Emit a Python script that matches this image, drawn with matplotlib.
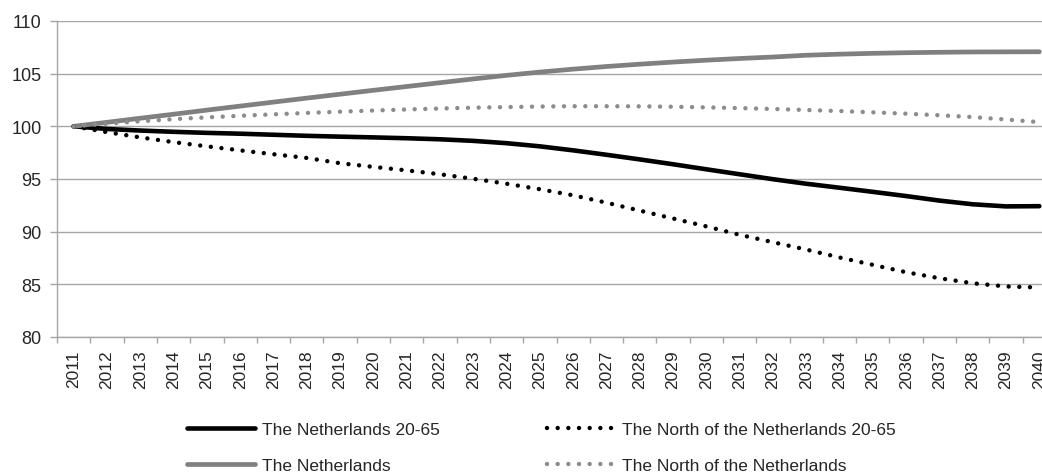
import matplotlib

matplotlib.use("Agg")
import matplotlib.pyplot as plt
import numpy as np

plt.rcParams["font.family"] = ["Liberation Sans", "DejaVu Sans"]

years = list(range(2011, 2041))

nl_20_65 = [100.0, 99.75, 99.6, 99.48, 99.38, 99.3, 99.2, 99.1, 99.02, 98.95,
            98.87, 98.77, 98.62, 98.4, 98.1, 97.72, 97.3, 96.86, 96.4, 95.92,
            95.45, 94.98, 94.55, 94.17, 93.78, 93.38, 92.95, 92.6, 92.4, 92.42]
north_20_65 = [100.0, 99.45, 98.95, 98.5, 98.1, 97.72, 97.35, 97.0, 96.5, 96.15,
               95.82, 95.45, 95.02, 94.55, 94.03, 93.45, 92.75, 92.0, 91.25, 90.5,
               89.7, 89.0, 88.3, 87.55, 86.85, 86.15, 85.58, 85.1, 84.8, 84.7]
nl_total = [100.0, 100.38, 100.77, 101.15, 101.54, 101.92, 102.3, 102.68, 103.05, 103.42,
            103.78, 104.14, 104.5, 104.84, 105.15, 105.43, 105.68, 105.9, 106.1, 106.28,
            106.44, 106.58, 106.75, 106.85, 106.93, 106.99, 107.03, 107.06, 107.07, 107.08]
north_total = [100.0, 100.25, 100.48, 100.68, 100.85, 101.0, 101.14, 101.27, 101.39, 101.5,
               101.6, 101.69, 101.77, 101.83, 101.88, 101.91, 101.91, 101.9, 101.86, 101.8,
               101.73, 101.65, 101.55, 101.45, 101.33, 101.2, 101.05, 100.88, 100.65, 100.4]

labels = ["The Netherlands 20-65", "The Netherlands",
          "The North of the Netherlands 20-65", "The North of the Netherlands"]

_BLACK = "#000000"
_GREY = "#808080"
_GREY_DOT = "#8c8c8c"
_GRID = "#a6a6a6"
_TEXT = "#262626"

fig = plt.figure(figsize=(10.42, 4.77), dpi=100)
ax = fig.add_axes([57 / 1042, 139 / 477, 999 / 1042, 316 / 477])

x = np.arange(len(years))
dotted = (0, (0.001, 2.4))
l1, = ax.plot(x, nl_20_65, color=_BLACK, lw=3.3, solid_capstyle="round")
l2, = ax.plot(x, nl_total, color=_GREY, lw=3.4, solid_capstyle="round")
l3, = ax.plot(x, north_20_65, color=_BLACK, lw=3.2, linestyle=dotted,
              dash_capstyle="round")
l4, = ax.plot(x, north_total, color=_GREY_DOT, lw=3.2, linestyle=dotted,
              dash_capstyle="round")

ax.set_xlim(-0.5, len(years) - 0.5)
ax.set_ylim(80, 110)
ax.set_yticks(range(80, 111, 5))
ax.set_xticks(x)
ax.set_xticklabels([str(y) for y in years], rotation=90)
ax.set_xticks(np.arange(-0.5, len(years), 1.0), minor=True)
ax.tick_params(axis="x", which="major", length=0, pad=9, labelsize=12.5, labelcolor=_TEXT)
ax.tick_params(axis="x", which="minor", length=4.3, width=1, color=_GRID)
ax.tick_params(axis="y", length=5, width=1, color=_GRID, pad=6, labelsize=13, labelcolor=_TEXT)

ax.grid(True, axis="y", color=_GRID, lw=1)
ax.set_axisbelow(True)
for side in ("top", "right"):
    ax.spines[side].set_visible(False)
for side in ("left", "bottom"):
    ax.spines[side].set_color(_GRID)
    ax.spines[side].set_linewidth(1)

fig.legend([l1, l2, l3, l4], labels, ncol=2, frameon=False,
           loc="upper left", bbox_to_anchor=(187 / 1042, 54 / 477),
           borderpad=0, borderaxespad=0, fontsize=12.5,
           handlelength=3.9, handletextpad=0.4, columnspacing=6.2,
           labelspacing=1.17, labelcolor=_TEXT)

fig.savefig("out.png", dpi=100)
